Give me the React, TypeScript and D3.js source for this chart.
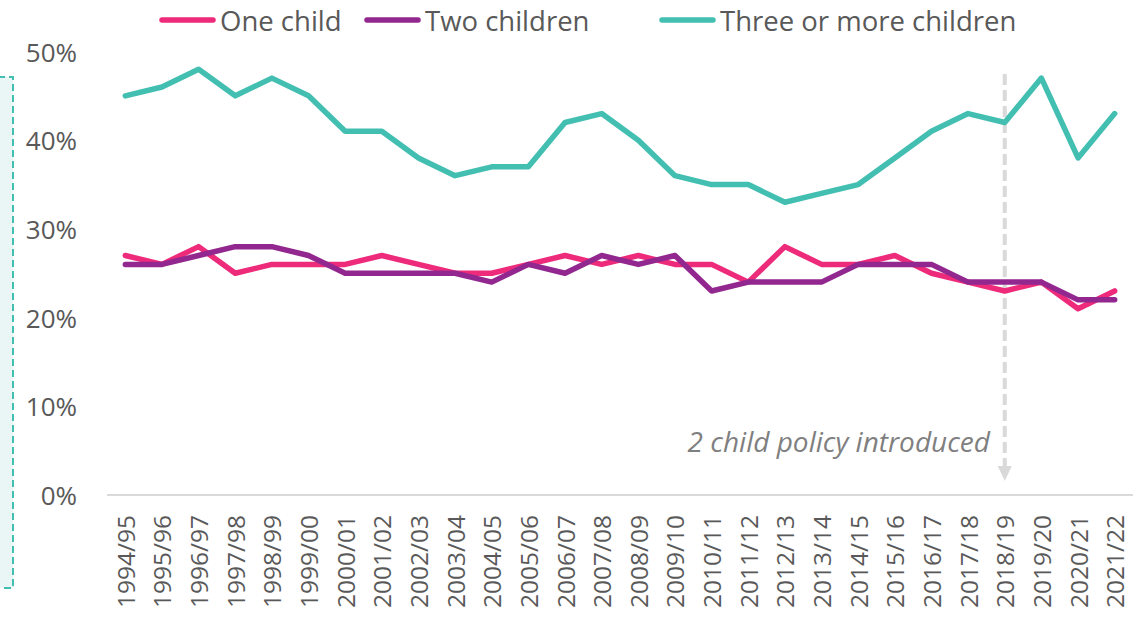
import React from "react";
import * as d3 from "d3";

const years = [
  "1994/95", "1995/96", "1996/97", "1997/98", "1998/99", "1999/00", "2000/01",
  "2001/02", "2002/03", "2003/04", "2004/05", "2005/06", "2006/07", "2007/08",
  "2008/09", "2009/10", "2010/11", "2011/12", "2012/13", "2013/14", "2014/15",
  "2015/16", "2016/17", "2017/18", "2018/19", "2019/20", "2020/21", "2021/22",
];

const oneChild = [27, 26, 28, 25, 26, 26, 26, 27, 26, 25, 25, 26, 27, 26, 27, 26, 26, 24, 28, 26, 26, 27, 25, 24, 23, 24, 21, 23];
const twoChildren = [26, 26, 27, 28, 28, 27, 25, 25, 25, 25, 24, 26, 25, 27, 26, 27, 23, 24, 24, 24, 26, 26, 26, 24, 24, 24, 22, 22];
const threePlus = [45, 46, 48, 45, 47, 45, 41, 41, 38, 36, 37, 37, 42, 43, 40, 36, 35, 35, 33, 34, 35, 38, 41, 43, 42, 47, 38, 43];

const yTicks = [0, 10, 20, 30, 40, 50];

const seriesList = [
  { name: "One child", values: oneChild, color: "#EE2A7B" },
  { name: "Two children", values: twoChildren, color: "#92278F" },
  { name: "Three or more children", values: threePlus, color: "#43BFB2" },
];

const policyYear = "2018/19";
const policyLabel = "2 child policy introduced";

const W = 1138;
const H = 618;
const FONT = "'Open Sans', sans-serif";
const TEXT = "#595959";

export default function App() {
  const x = d3.scalePoint<string>().domain(years).range([107, 1133]).padding(0.5);
  const y = d3.scaleLinear().domain([0, 50]).range([495, 51.5]);

  const line = d3
    .line<number>()
    .x((_, i) => x(years[i]) as number)
    .y((d) => y(d));

  const px = x(policyYear) as number;
  const legendX = [160, 365, 660];

  return (
    <svg
      width={W}
      height={H}
      style={{ position: "absolute", left: 0, top: 0, background: "#fff" }}
      fontFamily={FONT}
    >
      {/* dashed bracket on the left edge */}
      <rect x={-2} y={77} width={15} height={511} fill="#EAF6F5" stroke="#43BFB2" strokeWidth={2} strokeDasharray="7,4" />

      {/* y tick labels */}
      {yTicks.map((t) => (
        <text key={t} x={77} y={y(t)} textAnchor="end" dominantBaseline="central" fontSize={26} fill={TEXT}>
          {t}%
        </text>
      ))}

      {/* x axis */}
      <line x1={107} x2={1133} y1={y(0)} y2={y(0)} stroke="#D9D9D9" strokeWidth={2} />
      {years.map((yr) => (
        <text
          key={yr}
          transform={`translate(${x(yr)},${515}) rotate(-90)`}
          textAnchor="end"
          dominantBaseline="central"
          fontSize={24.5}
          fill={TEXT}
        >
          {yr}
        </text>
      ))}

      {/* policy marker */}
      <line x1={px} x2={px} y1={74} y2={466} stroke="#D9D9D9" strokeWidth={4} strokeDasharray="11,5" />
      <path d={`M${px - 7},${466} L${px + 7},${466} L${px},${481} Z`} fill="#D9D9D9" />
      <text x={990} y={441} textAnchor="end" dominantBaseline="central" fontSize={28} fontStyle="italic" fill="#7F7F7F">
        {policyLabel}
      </text>

      {/* series */}
      {seriesList.map((s) => (
        <path
          key={s.name}
          d={line(s.values) ?? ""}
          fill="none"
          stroke={s.color}
          strokeWidth={5.5}
          strokeLinejoin="round"
          strokeLinecap="round"
        />
      ))}

      {/* legend */}
      {seriesList.map((s, i) => (
        <g key={s.name} transform={`translate(${legendX[i]},20)`}>
          <line x1={2} x2={53} y1={0} y2={0} stroke={s.color} strokeWidth={5.5} strokeLinecap="round" />
          <text x={60} y={0} dominantBaseline="central" fontSize={27.5} fill={TEXT}>
            {s.name}
          </text>
        </g>
      ))}
    </svg>
  );
}
